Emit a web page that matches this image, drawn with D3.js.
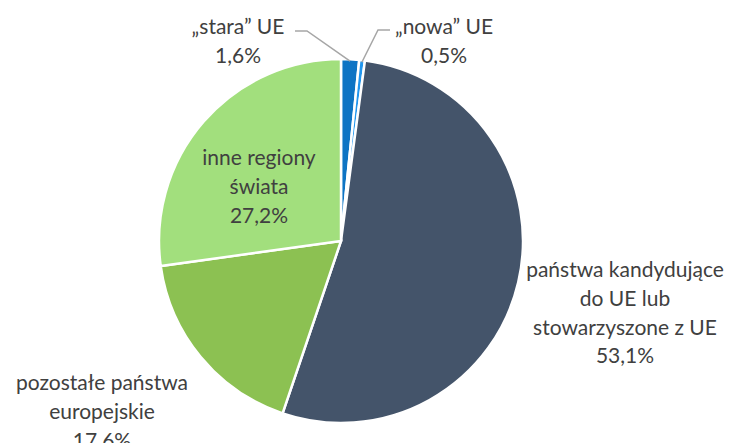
<!DOCTYPE html>
<html>
<head>
<meta charset="utf-8">
<script src="https://cdn.jsdelivr.net/npm/d3@7"></script>
<style>
  html, body { margin: 0; padding: 0; background: #fff; }
  svg { display: block; }
  text { font-family: Lato, "Open Sans", sans-serif; fill: #404040; }
</style>
</head>
<body>
<svg id="chart" width="746" height="443"></svg>
<script>
// ---- data ----
const categories = ["\u201estara\u201d UE", "\u201enowa\u201d UE", "pa\u0144stwa kandyduj\u0105ce do UE lub stowarzyszone z UE", "pozosta\u0142e pa\u0144stwa europejskie", "inne regiony \u015bwiata"];
const values = [1.6, 0.5, 53.1, 17.6, 27.2];
const valueLabels = ["1,6%", "0,5%", "53,1%", "17.6%", "27,2%"];
const labelLines = [
  ["\u201estara\u201d UE"],
  ["\u201enowa\u201d UE"],
  ["pa\u0144stwa kandyduj\u0105ce", "do UE lub", "stowarzyszone z UE"],
  ["pozosta\u0142e pa\u0144stwa", "europejskie"],
  ["inne regiony", "\u015bwiata"]
];
const colors = ["#0e74c4", "#2196ee", "#44546a", "#8cc152", "#a2df7d"];

// ---- layout ----
const W = 746, H = 443;
const cx = 341, cy = 241, R = 182;
const labelPos = [
  {x: 238, y: 27}, {x: 444, y: 27}, {x: 625, y: 270}, {x: 102, y: 383}, {x: 259, y: 158}
];
const lineH = 28.7;

const svg = d3.select("#chart");
const g = svg.append("g").attr("transform", `translate(${cx},${cy})`);

const pie = d3.pie().sort(null).value(d => d)(values);
const arc = d3.arc().innerRadius(0).outerRadius(R);

g.selectAll("path.slice").data(pie).enter().append("path")
  .attr("class", "slice")
  .attr("d", arc)
  .attr("fill", (d, i) => colors[i])
  .attr("stroke", "#fff")
  .attr("stroke-width", 2.5)
  .attr("stroke-linejoin", "miter");

// leader lines for small slices
const outerArc = d3.arc().innerRadius(R - 2).outerRadius(R - 2);
const leaders = [
  {i: 0, elbow: [307, 31], end: [295, 31]},
  {i: 1, elbow: [378, 30], end: [390, 30]}
];
leaders.forEach(l => {
  const c = outerArc.centroid(pie[l.i]);
  const p0 = [cx + c[0], cy + c[1]];
  svg.append("polyline")
    .attr("points", [p0, l.elbow, l.end].map(p => p.join(",")).join(" "))
    .attr("fill", "none")
    .attr("stroke", "#a6a6a6")
    .attr("stroke-width", 1.5);
});

// labels
pie.forEach((d, i) => {
  const lines = labelLines[i].concat([valueLabels[i]]);
  const t = svg.append("text")
    .attr("text-anchor", "middle")
    .attr("font-size", 21);
  lines.forEach((ln, k) => {
    t.append("tspan")
      .attr("x", labelPos[i].x)
      .attr("y", labelPos[i].y + k * lineH)
      .attr("dy", "0.35em")
      .text(ln);
  });
});
</script>
</body>
</html>
